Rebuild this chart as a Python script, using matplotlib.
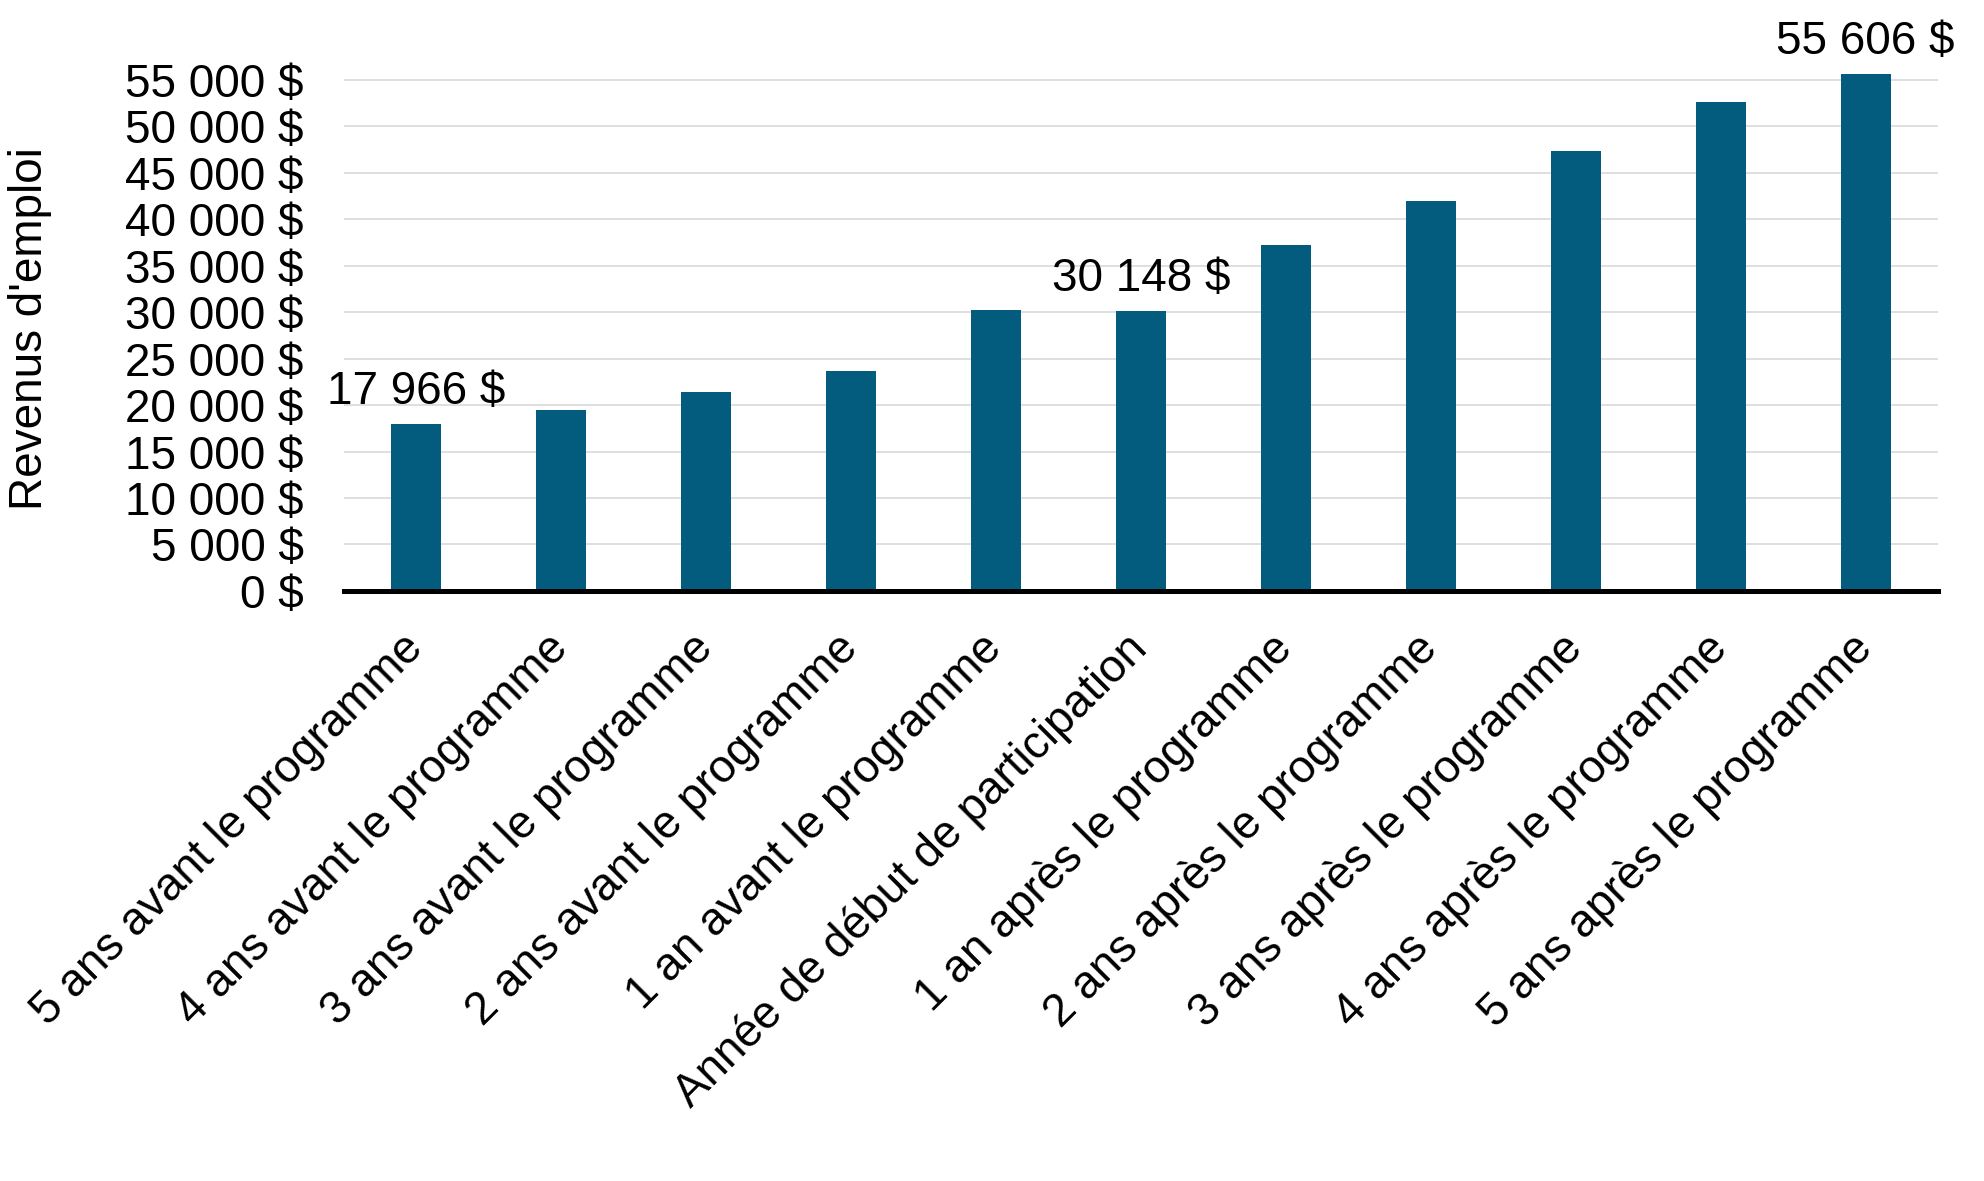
import matplotlib
matplotlib.use("Agg")
import matplotlib.pyplot as plt
import matplotlib.transforms as mtransforms
from matplotlib.ticker import FuncFormatter, MultipleLocator

categories = [
    "5 ans avant le programme",
    "4 ans avant le programme",
    "3 ans avant le programme",
    "2 ans avant le programme",
    "1 an avant le programme",
    "Année de début de participation",
    "1 an après le programme",
    "2 ans après le programme",
    "3 ans après le programme",
    "4 ans après le programme",
    "5 ans après le programme",
]
values = [17966, 19500, 21350, 23650, 30200, 30148, 37250, 42000, 47350, 52550, 55606]
labelled = {0: "17 966 $", 5: "30 148 $", 10: "55 606 $"}
y_label = "Revenus d'emploi"

plt.rcParams['font.family'] = ['Liberation Sans', 'DejaVu Sans']
FS = 33

fig = plt.figure(figsize=(19.84, 11.81), dpi=100)
ax = fig.add_axes([0.1734, 0.4996, 0.8034, 0.4487])

x = list(range(len(categories)))
bars = ax.bar(x, values, width=0.345, color="#035C7E", zorder=3)

ax.set_xlim(-0.5, len(categories) - 0.5)
ax.set_ylim(0, 57000)
ax.yaxis.set_major_locator(MultipleLocator(5000))
ax.yaxis.set_major_formatter(FuncFormatter(lambda v, p: f"{v:,.0f} $".replace(",", " ")))
ax.grid(axis="y", color="#D9D9D9", linewidth=1.2, zorder=0)
ax.set_axisbelow(True)

for s in ["top", "right", "left"]:
    ax.spines[s].set_visible(False)
ax.spines["bottom"].set_linewidth(3.6)
ax.spines["bottom"].set_color("black")
ax.spines["bottom"].set_zorder(4)

ax.tick_params(axis="y", length=0, pad=29, labelsize=FS)
ax.tick_params(axis="x", length=0, pad=28, labelsize=FS)
ax.set_xticks(x)
ax.set_xticklabels(categories, rotation=45, ha="right", rotation_mode="anchor")
offset = mtransforms.ScaledTranslation(-16 / 100, 4 / 100, fig.dpi_scale_trans)
for lbl in ax.get_xticklabels():
    lbl.set_transform(lbl.get_transform() + offset)

ax.set_ylabel(y_label, fontsize=FS)
ax.yaxis.set_label_coords(-0.183, 0.495)

for i, txt in labelled.items():
    ax.annotate(txt, (x[i], values[i]), xytext=(0, 7), textcoords="offset points",
                ha="center", va="bottom", fontsize=FS, clip_on=False)

fig.savefig("out.png", dpi=100, facecolor="white")
